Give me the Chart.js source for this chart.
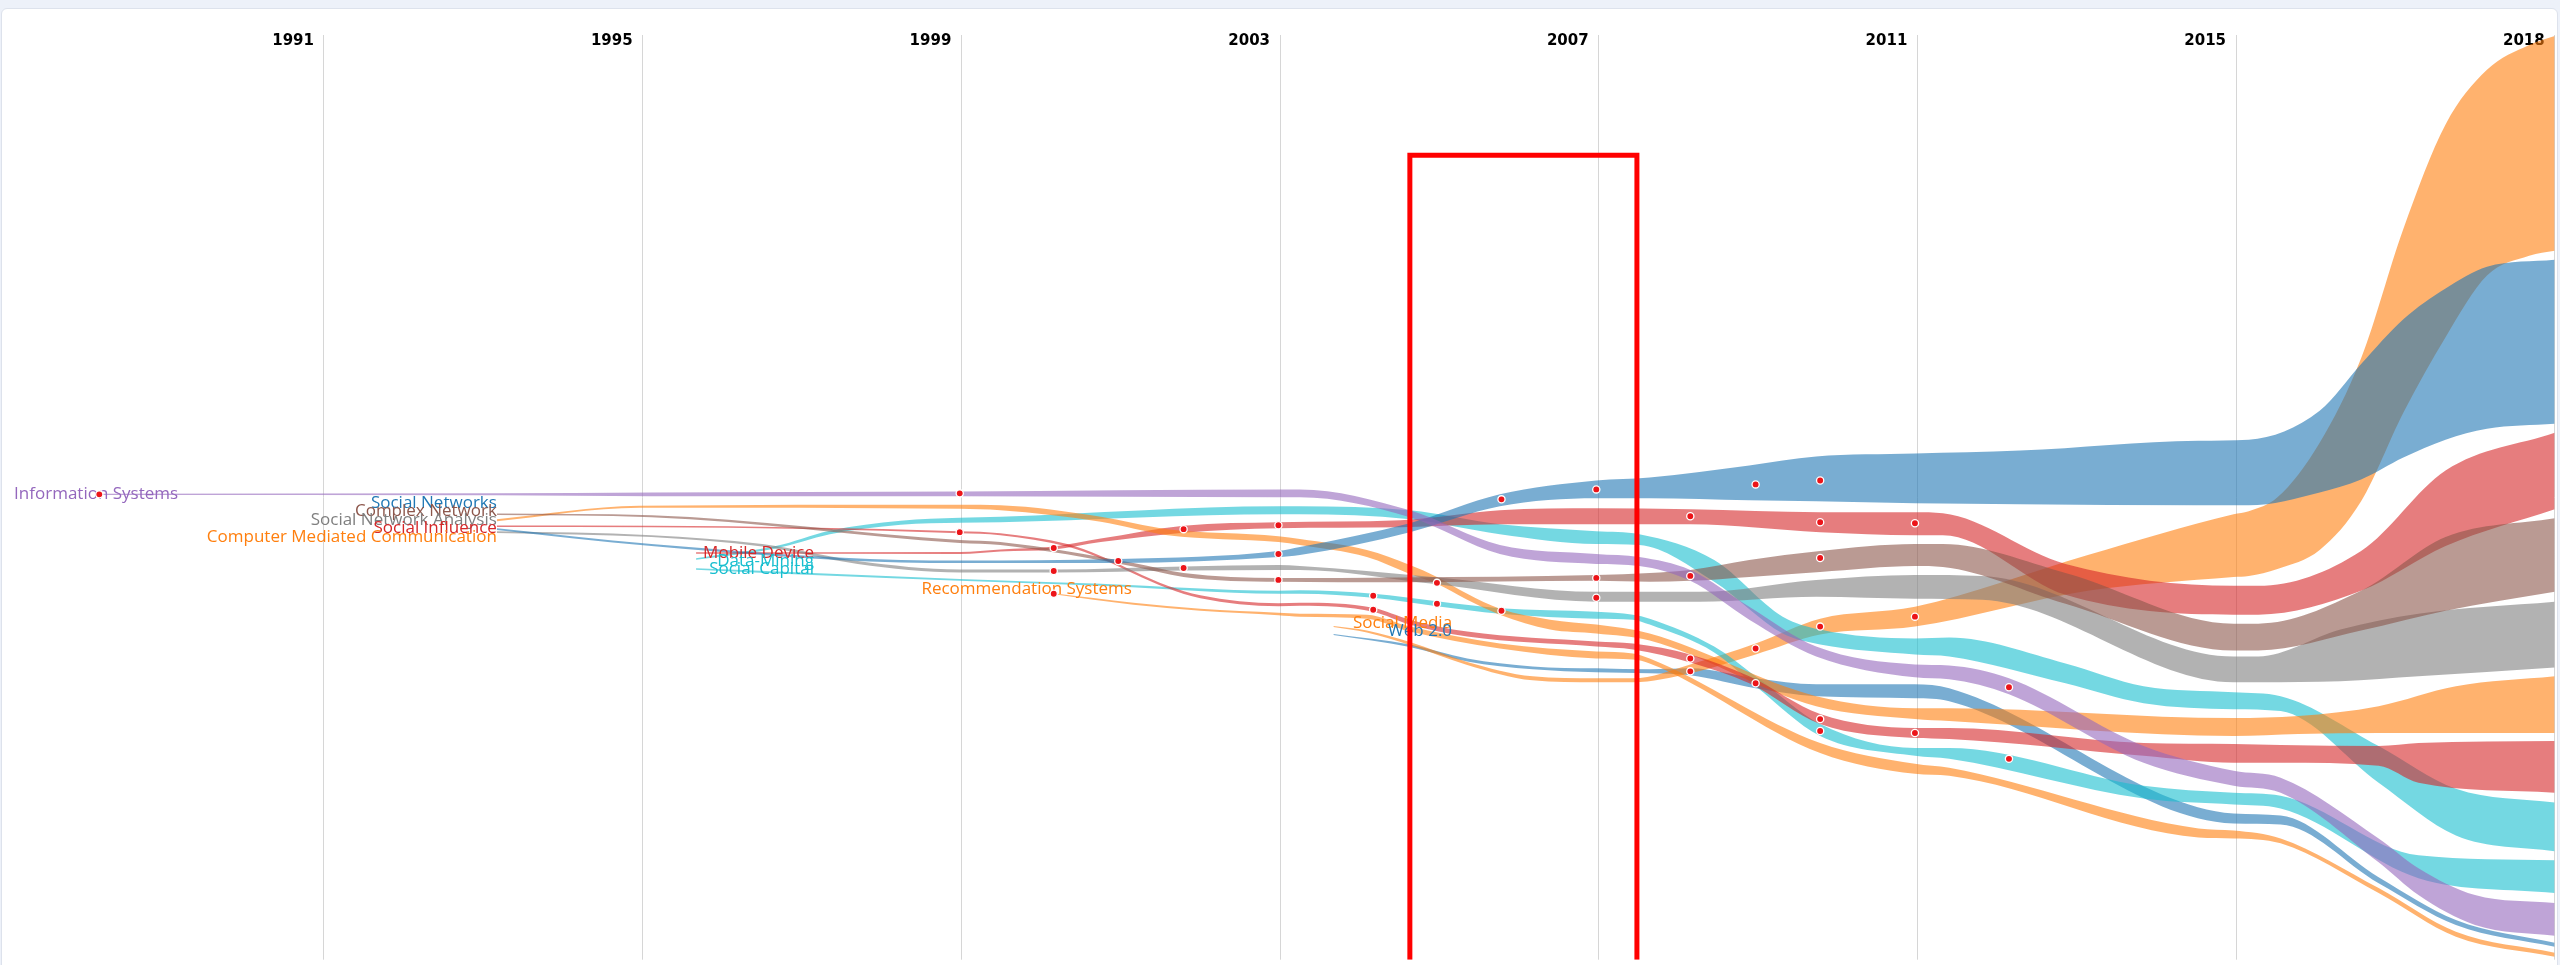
<!DOCTYPE html>
<html><head><meta charset="utf-8">
<script src="https://cdn.jsdelivr.net/npm/chart.js@4.4.1/dist/chart.umd.min.js"></script>
<style>
html,body{margin:0;padding:0;background:#edf1f9;width:2560px;height:965px;overflow:hidden;}
#card{position:absolute;left:1px;top:8px;width:2555px;height:980px;background:#fff;border:1px solid #dde2ec;border-radius:6px;}
#c{position:absolute;left:0;top:0;}
</style></head><body>
<div id="card"></div>
<canvas id="c" width="2560" height="965"></canvas>
<script>
// ---- axis ----
const tickYears = [1991, 1995, 1999, 2003, 2007, 2011, 2015, 2019];
const tickLabels = ['1991', '1995', '1999', '2003', '2007', '2011', '2015', '2018'];

// ---- streams: x = year, top / bottom = vertical position of band edges ----
const isYears = [1988.18, 1993.17, 1995.11, 1998.98, 2002.98, 2003.25, 2004.63, 2005.76, 2006.97, 2007.51, 2008.15, 2008.89, 2009.73, 2010.97, 2011.40, 2012.15, 2013.84, 2014.97, 2015.56, 2016.79, 2017.29, 2018.00, 2019.00];
const isTop    = [496.3, 496, 495, 494, 492, 492, 513, 548, 557, 560, 573, 610, 650, 668, 669, 682, 750, 775, 782, 843, 873, 900, 908];
const isBottom = [497.7, 498, 499, 499, 500, 500, 520, 557, 567, 569, 584, 623, 660, 681, 683, 698, 767, 790, 797, 867, 900, 930, 941];

const snYears = [1993.17, 1995.11, 1998.24, 1998.98, 2000.97, 2002.98, 2003.25, 2004.63, 2005.76, 2006.97, 2007.64, 2008.89, 2009.73, 2010.97, 2012.29, 2014.53, 2015.16, 2016.05, 2016.57, 2017.10, 2017.63, 2018.15, 2019.00];
const snTop    = [531.2, 547, 563, 563.5, 562, 554, 550, 526, 497, 483, 480, 468, 459, 456, 453, 443, 442, 413, 366, 321, 290, 268, 261];
const snBottom = [532.8, 549, 565.5, 566, 566, 560, 558, 535, 509, 501, 501, 503, 504, 506, 507, 508, 508, 495, 482, 460, 442, 431, 426];

const cnYears = [1993.17, 1995.11, 1998.98, 1999.49, 2001.16, 2001.79, 2002.98, 2004.51, 2006.97, 2007.64, 2008.15, 2008.89, 2009.78, 2010.97, 2011.32, 2012.86, 2014.97, 2015.28, 2016.57, 2017.63, 2019.00];
const cnTop    = [516.2, 518, 543, 545, 566, 576, 581, 580.5, 578, 576, 573, 563, 554, 547, 547, 576, 627, 627, 594, 540, 521];
const cnBottom = [517.8, 520, 546, 548, 569.5, 580, 585, 585.5, 584, 585, 584, 580, 575, 569, 570, 607, 654, 654, 634, 614, 595];

const snaYears = [1993.17, 1995.11, 1996.50, 1997.70, 1998.98, 2000.16, 2001.79, 2002.98, 2003.25, 2004.92, 2006.97, 2008.27, 2009.73, 2010.97, 2011.81, 2014.97, 2015.28, 2016.31, 2017.29, 2019.00];
const snaTop    = [534.2, 538, 547, 564, 572.5, 572.5, 569.5, 568, 569, 580, 595, 595, 583, 578, 579, 660, 660, 633, 617, 605];
const snaBottom = [535.8, 540, 549.5, 567, 575.5, 575.5, 573.5, 573, 573, 587, 605, 605, 600, 602, 603, 686, 686, 685, 680, 671];

const siYears = [1993.17, 1995.11, 1998.98, 1999.49, 2000.33, 2000.75, 2001.16, 2001.59, 2002.00, 2002.98, 2003.25, 2004.17, 2004.63, 2005.35, 2006.97, 2007.43, 2008.15, 2008.89, 2009.78, 2010.97, 2011.40, 2013.84, 2014.97, 2015.56, 2016.79, 2017.29, 2019.00];
const siTop    = [528.2, 528.5, 534, 536, 547, 559, 574, 589, 598.5, 606.5, 606, 611, 623, 635, 645, 647, 658, 680, 718, 732, 732, 747, 748, 749, 750, 747, 745];
const siBottom = [529.8, 530, 536, 538, 549.5, 561.5, 576.5, 591.5, 601.5, 609.5, 609, 615, 628, 640, 650, 653, 666, 687, 728, 742, 743, 760, 767, 767, 770, 787, 797];

const cmcYears = [1993.17, 1994.96, 1998.98, 1999.49, 2000.75, 2001.59, 2002.98, 2003.25, 2004.09, 2004.63, 2004.97, 2005.35, 2005.76, 2006.39, 2006.97, 2007.64, 2009.73, 2010.97, 2011.40, 2014.97, 2015.78, 2016.79, 2017.76, 2019.00];
const cmcTop    = [522, 508.5, 507.5, 508, 519.5, 532, 539, 542, 553, 568, 580, 597, 612, 623, 628, 637, 700, 712, 712, 722, 720, 710, 690, 680];
const cmcBottom = [524, 510.5, 511.5, 513, 524.5, 538, 545, 548, 560, 577, 587, 603, 618, 633, 637, 644, 710, 723, 725, 740, 738, 737, 737, 737];

const mdYears = [1995.67, 1998.98, 1999.49, 2000.16, 2000.75, 2001.79, 2002.98, 2004.51, 2005.76, 2006.97, 2008.15, 2009.78, 2010.97, 2011.32, 2012.86, 2014.97, 2015.28, 2016.57, 2017.63, 2019.00];
const mdTop    = [555.2, 555, 552.5, 549.5, 541.5, 528.5, 525, 523, 513, 511, 512, 515, 515, 516, 567, 589, 589, 554, 473, 435];
const mdBottom = [556.8, 557, 554.5, 552.5, 545, 535.5, 531, 530, 527, 527, 527, 535, 538, 538, 598, 618, 618, 594, 549, 512];

const dmYears = [1995.67, 1996.67, 1997.35, 1998.24, 1998.98, 1999.49, 2002.98, 2003.25, 2004.63, 2005.76, 2006.97, 2007.51, 2008.45, 2009.31, 2009.78, 2010.97, 2011.40, 2012.86, 2013.84, 2014.97, 2015.56, 2016.79, 2017.76, 2019.00];
const dmTop    = [561.2, 549, 533.5, 523.5, 520.5, 519.5, 509, 509, 513, 527, 534, 537, 563, 620, 633, 642, 641, 667, 690, 696, 700, 750, 793, 807];
const dmBottom = [562.8, 551.5, 537, 527.5, 525.5, 525, 517, 517, 522, 537, 547, 548, 585, 637, 648, 658, 660, 687, 707, 713, 715, 787, 840, 856];

const scYears = [1995.67, 1997.13, 1998.98, 2000.75, 2002.98, 2003.25, 2004.17, 2004.97, 2005.76, 2006.97, 2007.43, 2007.64, 2008.45, 2008.97, 2009.78, 2010.97, 2011.40, 2013.84, 2014.97, 2015.56, 2017.29, 2019.00];
const scTop    = [571.3, 576, 582, 587, 594, 593.5, 597, 604.5, 611.5, 615, 618, 622, 650, 680, 728, 752, 752, 790, 797, 800, 860, 865];
const scBottom = [572.7, 578, 584, 589, 597, 597, 601, 609.5, 617, 622, 623, 628, 656, 690, 740, 760, 763, 803, 809, 813, 883, 898];

const rsYears = [2000.16, 2001.16, 2002.00, 2002.98, 2003.25, 2004.09, 2004.63, 2005.76, 2006.97, 2007.43, 2007.64, 2009.78, 2010.97, 2011.40, 2014.53, 2014.97, 2015.56, 2016.79, 2017.76, 2019.00];
const rsTop    = [596.5, 606, 612, 616, 617, 618, 630, 647, 655, 657, 662, 747, 768, 772, 833, 835, 843, 893, 937, 958];
const rsBottom = [597.5, 608, 614, 618.5, 620, 622, 635, 652, 662, 663, 667, 757, 778, 780, 842, 843, 848, 898, 942, 962];

const smYears = [2003.67, 2004.09, 2004.63, 2005.35, 2006.17, 2006.97, 2007.43, 2008.15, 2008.97, 2009.78, 2010.97, 2013.14, 2014.97, 2015.16, 2015.52, 2016.05, 2016.57, 2017.10, 2017.63, 2018.15, 2018.68, 2019.00];
const smTop    = [629.5, 634, 645.5, 665.5, 680, 682, 682, 668, 647, 622, 610, 558, 517, 514, 500, 445, 360, 230, 125, 70, 45, 36];
const smBottom = [630.5, 636, 648.5, 668.5, 684, 686, 686, 677, 658, 638, 630, 594, 580, 579, 572, 553, 504, 415, 339, 277, 257, 252];

const webYears = [2003.67, 2004.63, 2005.35, 2006.17, 2006.97, 2007.64, 2008.15, 2008.97, 2009.73, 2010.97, 2011.40, 2014.97, 2015.56, 2016.79, 2017.76, 2019.00];
const webTop    = [637.5, 648, 662, 670, 672, 673, 672, 682, 688, 688, 692, 818, 820, 882, 925, 948];
const webBottom = [638.5, 650.5, 665, 673, 676, 677, 679, 692, 700, 702, 705, 828, 829, 888, 930, 952];

// ---- burst dots ----
const dotYears = [1988.18, 1998.98, 1998.98, 2000.16, 2000.16, 2000.16, 2000.97, 2001.79, 2001.79, 2002.98, 2002.98, 2002.98, 2004.17, 2004.17, 2004.97, 2004.97, 2005.78, 2005.78, 2006.97, 2006.97, 2006.97, 2008.15, 2008.15, 2008.15, 2008.15, 2008.97, 2008.97, 2008.97, 2009.78, 2009.78, 2009.78, 2009.78, 2009.78, 2009.78, 2010.97, 2010.97, 2010.97, 2012.15, 2012.15];
const dotValues = [497, 496, 535, 551, 574, 597, 564, 532, 571, 528, 557, 583, 599, 613, 586, 607, 502, 614, 492, 581, 601, 519, 579, 662, 675, 487, 652, 687, 483, 525, 561, 630, 723, 735, 526, 620, 737, 691, 763];

// ---- highlight box (years / values of its corners) ----
const boxYears = [2004.63, 2004.63, 2007.48, 2007.48];
const boxValues = [965, 156, 156, 965];

// ---- stream labels ----
const labelNames = ['Information Systems', 'Social Networks', 'Complex Network', 'Social Network Analysis', 'Social Influence', 'Computer Mediated Communication', 'Mobile Device', 'Data-Mining', 'Social Capital', 'Recommendation Systems', 'Social Media', 'Web 2.0'];
const labelYears = [1988.14, 1993.17, 1993.17, 1993.17, 1993.17, 1993.17, 1997.15, 1997.15, 1997.15, 1999.82, 2005.16, 2005.16];
const labelValues = [497, 506, 514, 523, 531, 540, 556, 564, 572, 592, 627, 635];

// ---- styling (kept apart from data) ----
const C = {blue:'#1f77b4', orange:'#ff7f0e', red:'#d62728', purple:'#9467bd', brown:'#8c564b', gray:'#7f7f7f', cyan:'#17becf'};
const labelColors = [C.purple, C.blue, C.brown, C.gray, C.red, C.orange, C.red, C.cyan, C.cyan, C.orange, C.orange, C.blue];
const labelAligns = ['center', 'right', 'right', 'right', 'right', 'right', 'right', 'right', 'right', 'center', 'right', 'right'];

const streams = [
  {years: isYears, top: isTop, bottom: isBottom, color: C.purple},
  {years: snYears, top: snTop, bottom: snBottom, color: C.blue},
  {years: cnYears, top: cnTop, bottom: cnBottom, color: C.brown},
  {years: snaYears, top: snaTop, bottom: snaBottom, color: C.gray},
  {years: siYears, top: siTop, bottom: siBottom, color: C.red},
  {years: cmcYears, top: cmcTop, bottom: cmcBottom, color: C.orange},
  {years: mdYears, top: mdTop, bottom: mdBottom, color: C.red},
  {years: dmYears, top: dmTop, bottom: dmBottom, color: C.cyan},
  {years: scYears, top: scTop, bottom: scBottom, color: C.cyan},
  {years: rsYears, top: rsTop, bottom: rsBottom, color: C.orange},
  {years: smYears, top: smTop, bottom: smBottom, color: C.orange},
  {years: webYears, top: webTop, bottom: webBottom, color: C.blue}
];

function alpha(hex, a) {
  const n = parseInt(hex.slice(1), 16);
  return `rgba(${(n >> 16) & 255},${(n >> 8) & 255},${n & 255},${a})`;
}

const datasets = [];
streams.forEach((s) => {
  datasets.push({
    data: s.years.map((x, i) => ({x, y: s.top[i]})),
    fill: '+1', backgroundColor: alpha(s.color, 0.6), borderColor: 'rgba(0,0,0,0)', borderWidth: 0,
    pointRadius: 0, cubicInterpolationMode: 'monotone', order: 1
  });
  datasets.push({
    data: s.years.map((x, i) => ({x, y: s.bottom[i]})),
    fill: false, borderColor: 'rgba(0,0,0,0)', borderWidth: 0,
    pointRadius: 0, cubicInterpolationMode: 'monotone', order: 1
  });
});
datasets.push({
  data: dotYears.map((x, i) => ({x, y: dotValues[i]})),
  showLine: false, fill: false, pointRadius: 3.6, pointBackgroundColor: '#ec1419',
  pointBorderColor: '#ffffff', pointBorderWidth: 1.3, order: 0
});
datasets.push({
  data: boxYears.map((x, i) => ({x, y: boxValues[i]})),
  showLine: true, fill: false, tension: 0, borderColor: '#ff0000', borderWidth: 5,
  pointRadius: 0, order: -1
});

const labelPlugin = {
  id: 'streamLabels',
  afterDatasetDraw(chart, args) {
    if (args.index !== 0) return;
    const {ctx} = chart;
    const xs = chart.scales.x, ys = chart.scales.y;
    ctx.save();
    ctx.font = '17px "Open Sans"';
    ctx.textBaseline = 'middle';
    labelNames.forEach((t, i) => {
      ctx.fillStyle = labelColors[i];
      ctx.textAlign = labelAligns[i];
      ctx.fillText(t, xs.getPixelForValue(labelYears[i]), ys.getPixelForValue(labelValues[i]));
    });
    ctx.restore();
  }
};

new Chart(document.getElementById('c'), {
  type: 'line',
  data: {datasets},
  plugins: [labelPlugin],
  options: {
    responsive: false, animation: false, events: [],
    layout: {padding: {left: 3, right: 4, top: 0, bottom: 0}},
    plugins: {legend: {display: false}, tooltip: {enabled: false}},
    scales: {
      x: {
        type: 'linear', position: 'top', min: 1987, max: 2019,
        afterBuildTicks: (s) => { s.ticks = tickYears.map(v => ({value: v})); },
        afterFit: (s) => { s.height = 35; },
        ticks: {
          mirror: true, align: 'end', labelOffset: -10, padding: -3, color: '#000',
          autoSkip: false, maxRotation: 0,
          font: {family: 'DejaVu Sans', weight: 'bold', size: 15},
          callback: (v) => { const i = tickYears.indexOf(v); return i >= 0 ? tickLabels[i] : ''; }
        },
        grid: {color: '#d6d6d6', lineWidth: 1, drawTicks: false},
        border: {display: false}
      },
      y: {type: 'linear', display: false, reverse: true, min: 35, max: 965}
    }
  }
});
</script>
</body></html>
